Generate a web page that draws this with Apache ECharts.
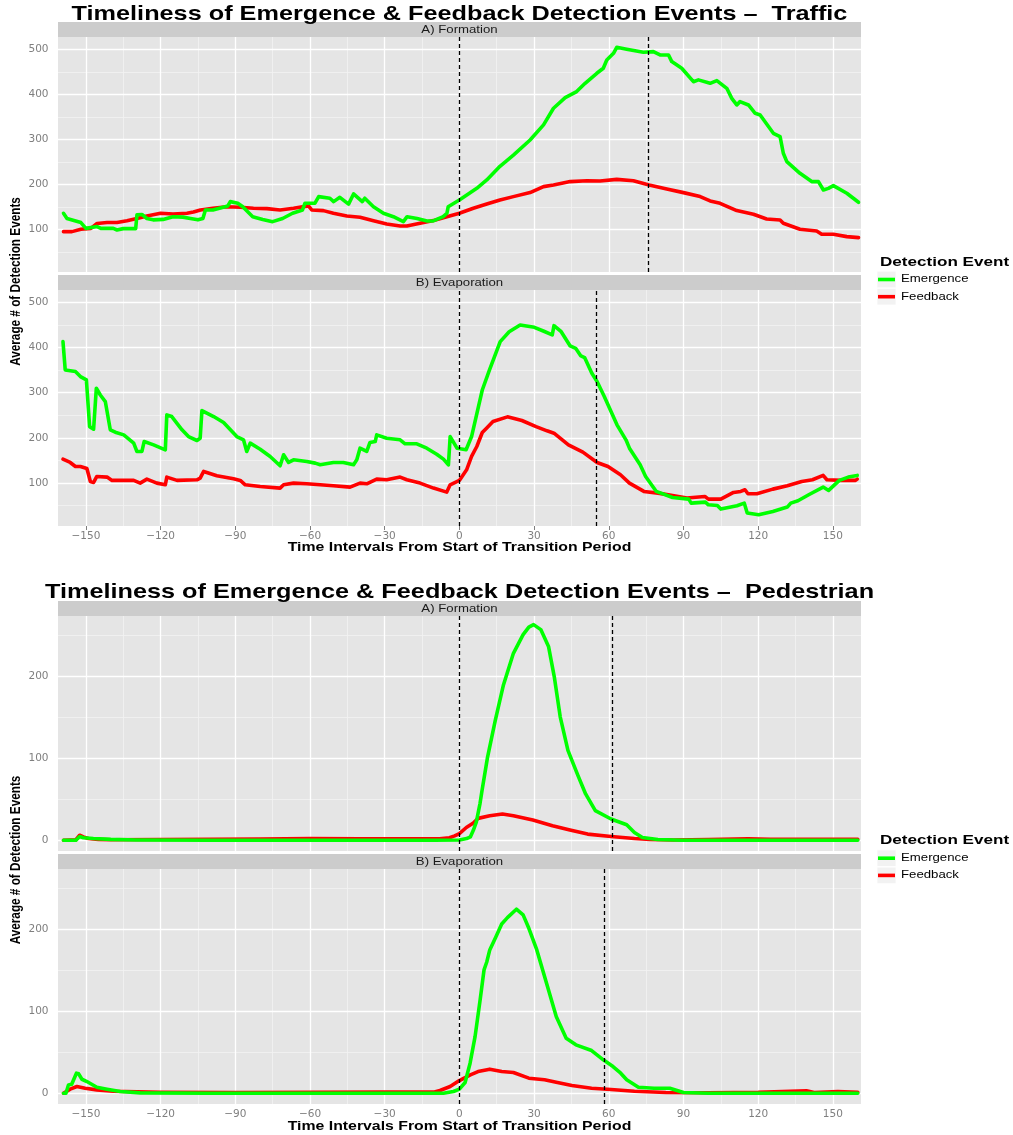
<!DOCTYPE html>
<html><head><meta charset="utf-8">
<script src="https://cdn.jsdelivr.net/npm/echarts@6/dist/echarts.min.js"></script>
<style>html,body{margin:0;padding:0;background:#fff}#c{width:1013px;height:1135px}</style>
</head><body><div id="c"></div><script>
// ---------------- data ----------------
const seriesNames = ['Emergence', 'Feedback'];
const seriesColors = ['#00FF00', '#FF0000'];
const figureTitles = [
  'Timeliness of Emergence & Feedback Detection Events \u2013  Traffic',
  'Timeliness of Emergence & Feedback Detection Events \u2013  Pedestrian'
];
const panelLabels = ['A) Formation', 'B) Evaporation'];
const xAxisTitle = 'Time Intervals From Start of Transition Period';
const yAxisTitle = 'Average # of Detection Events';
const legendTitle = 'Detection Event';

const xTicks = [-150, -120, -90, -60, -30, 0, 30, 60, 90, 120, 150];
const xMinor = [-135, -105, -75, -45, -15, 15, 45, 75, 105, 135];
const trafficYTicks = [100, 200, 300, 400, 500];
const trafficYMinor = [50, 150, 250, 350, 450];
const pedYTicks = [0, 100, 200];
const pedYMinor = [50, 150, 250];

// [time interval, average # of detection events]
const trafficFormationEmergence = [[-159,135.6],[-157.6,124],[-152,115],[-150,102],[-145.5,106],[-144,102],[-139,102],[-137.5,98.5],[-135,101.5],[-130,101.5],[-129.5,132],[-127.5,133],[-125.5,124],[-123,121],[-119,122],[-115,128],[-111,127],[-108,124],[-105,121],[-103,124],[-102,143],[-99,143],[-93,152],[-92,161.5],[-89,158],[-87,150],[-83,128],[-79,122],[-75,117],[-71,124],[-67,135.6],[-63,143],[-62,158],[-58,158],[-56.5,172.6],[-52,169],[-50.5,161.5],[-48,171],[-44.5,156],[-42.5,178.5],[-39,161.5],[-38,169],[-34.5,150],[-30.5,135.6],[-26.5,128],[-22.5,117],[-21,128],[-17,124],[-13,118.5],[-10.5,118.5],[-6.5,128],[-5,135.6],[-4.5,150],[0,165],[7,191],[11,209.6],[16.3,240],[21.7,265],[28.4,298.5],[33.8,332],[37.8,369],[42.5,392.6],[47.1,406],[50.5,424.4],[55.2,446.7],[57.8,457.8],[59.2,476.3],[61.9,491],[63.2,504.4],[67.2,500],[73.9,493.3],[77.9,494.8],[80.6,487.4],[84,487.4],[85.3,472.6],[89.3,457.8],[94,428],[96,432],[100.7,424.4],[103.4,430.4],[107.4,413.3],[109.4,391],[111.4,376.3],[112.7,383.7],[116.1,376.3],[118.8,357.8],[120.8,354],[126.1,313.3],[128.8,306],[130.1,269],[131.5,250.4],[136.8,224.4],[141.5,206],[144.2,206],[146.2,187.4],[148.2,191],[150.2,197],[155.6,180],[160.3,160]];
const trafficFormationFeedback = [[-159,94.8],[-155.6,94.8],[-152,100],[-148,102],[-145.5,113],[-141.5,115],[-137.5,115],[-133.5,119],[-129.5,124],[-125.5,129.6],[-120,135.6],[-115,134],[-109.4,135.6],[-106.8,138.5],[-104,143],[-99,146.7],[-93.4,150],[-88,149],[-82.7,146.7],[-77.3,146],[-72,143],[-66.6,146.7],[-60.6,152],[-59.3,143],[-54.6,141.5],[-50.6,135.6],[-45.2,129.6],[-39.9,126.7],[-34.5,119],[-29.2,111.8],[-23.8,107.4],[-21.1,107.4],[-15.8,113.3],[-10.4,119.3],[-5,128],[0,135.6],[5.6,146.7],[11,156],[16.3,165],[21.7,172.6],[28.4,181.5],[33.8,194.8],[37.8,198.5],[44.5,206],[51.2,208],[56.5,207.4],[63.2,211],[69.9,208],[76.2,198.5],[83.3,189.6],[90,181.5],[96.7,172.6],[100.7,163],[104.7,157.8],[111.4,141.5],[118.1,133.3],[123.4,123],[128.8,120.7],[130.1,113.3],[136.8,100],[143.5,96.3],[145.5,89],[150.2,89],[155.6,83.7],[160.3,81.5]];
const trafficEvaporationEmergence = [[-159.2,413],[-158.3,350.5],[-154.2,346.8],[-152.2,335.7],[-149.8,328.4],[-148.5,225],[-146.9,219.3],[-145.8,310],[-144.2,295],[-142.2,280.5],[-140.2,218],[-138.2,212.7],[-134.8,206.8],[-130.8,188.4],[-129.5,170],[-127.5,170],[-126.6,192],[-122.8,184.7],[-118.1,173.7],[-117.5,251],[-115.5,247.3],[-111.4,218],[-108.8,203],[-105.4,194.3],[-104.1,199.4],[-103.4,260.6],[-98.7,247.3],[-94.7,234],[-89.4,203],[-86.7,195.8],[-85.4,170],[-84,188.4],[-80,175],[-76,159],[-72,138.3],[-70.6,162.6],[-68.6,145.7],[-66.6,151.6],[-61.3,148],[-57.9,144.2],[-55.9,140.5],[-50.6,145.7],[-46.6,145.7],[-42.5,140.5],[-41.2,151.6],[-39.9,177.3],[-37.2,170],[-35.9,190],[-33.8,192],[-33.2,206.8],[-29.2,199.4],[-23.8,195.8],[-21.8,187],[-17.1,187],[-13.1,177.3],[-9.1,164],[-6.4,153],[-4.4,140.5],[-3.7,203],[-0.9,177],[2.7,173.7],[4.9,203],[9.2,306],[12.1,350.5],[16.4,413],[20,435],[24.4,450],[30.1,444.7],[33.7,436.6],[37.3,427.8],[38,448.4],[40.9,435],[44.5,403.5],[46.7,398.3],[48.8,381.4],[50.3,377.7],[53.2,343],[55.3,324.7],[58.2,291.5],[63.3,229],[66.9,195.8],[68.3,177.3],[72.6,140.5],[74.8,114.7],[79.1,81.6],[85.6,68.3],[92.1,64.6],[93.1,55.8],[98.8,58],[100,52],[103.6,50.6],[105,42.5],[111.5,50],[114.4,55.8],[115.6,33.7],[120.2,30],[125.9,37.4],[131.7,47],[133.1,55.8],[136,61],[140.3,74.2],[146.1,91.2],[148.3,83.8],[152.6,106],[156.2,113.3],[159.8,117]];
const trafficEvaporationFeedback = [[-159.2,153],[-156.3,145.7],[-154.2,136.8],[-152.2,136.8],[-151.6,138.3],[-149.6,132.4],[-148.2,103.7],[-146.9,101.5],[-145.6,114.7],[-141.5,113.3],[-139.5,106],[-134.8,106],[-130.8,106],[-128.2,100],[-125.5,108.8],[-121.5,100],[-118.1,96.3],[-117.5,113.3],[-113.4,106],[-105.4,107.4],[-104.1,111],[-102.7,125.8],[-97.4,116.2],[-90.7,109.6],[-88,106],[-86,96.3],[-80,92.6],[-72,89],[-70.6,96.3],[-66.6,100],[-61.3,98.5],[-55.9,96.3],[-50.6,94],[-43.9,91.2],[-39.9,100],[-37.2,98.5],[-33.2,108.8],[-29.2,107.4],[-23.8,113.3],[-21.1,107.4],[-15.8,100],[-10.4,89],[-5.1,80],[-3.7,96.3],[0,106],[2.9,129.5],[4.9,159],[7,181],[9.2,212],[11,222],[13.5,236.3],[19.3,246.6],[25.1,238.5],[30.8,225],[35.2,215.7],[38,210.5],[43.8,184.7],[49.6,168.5],[55.3,145.7],[59.7,136.8],[64.7,118.4],[68.3,100],[74.1,81.6],[79.8,77.9],[85.6,72.7],[91.4,66.9],[98.6,70.5],[100,64.6],[105,64.6],[110.1,79.4],[113,81.6],[114.7,85.3],[115.9,76.4],[119.5,76.4],[125.9,86.7],[131.7,94],[137.5,103.7],[141.8,107.4],[146.1,117],[147.6,107.4],[153.3,106],[159.1,106],[159.8,108.8]];
const pedFormationEmergence = [[-159,0],[-154,0],[-152.5,4.5],[-151,3],[-147,2],[-140,1],[-130,0.3],[-100,0],[-50,0],[-10,0],[0,0.2],[2.9,2],[4.4,4],[5.6,12],[6.8,22],[8.3,45],[9.1,60.5],[11.3,101],[14.4,146],[17.7,189.4],[21.7,228],[25.6,250.7],[27.9,260],[29.8,263],[32.7,256.9],[35.8,236.4],[38.1,199.6],[40.5,150.5],[43.6,109.6],[47.6,79],[50.7,56.4],[54.6,36],[60.9,25.8],[67.2,18.8],[70.3,9.4],[73.5,3.3],[79.7,0.8],[89.2,0],[120,0],[160,0]];
const pedFormationFeedback = [[-159,0],[-154,0.5],[-152.5,6],[-151,4],[-149,2],[-145,1],[-140,0.5],[-120,0.8],[-100,1.2],[-80,1.5],[-60,2],[-40,1.6],[-20,1.6],[-8,1.8],[-4,3],[-1.9,5.3],[0,8],[2.8,15.5],[5.6,21],[7.5,26.6],[12.2,29.9],[17.3,31.9],[21.7,29.9],[29.5,24.5],[37.4,17.6],[44.4,12.3],[51.5,7.4],[60.9,4.5],[70.3,2],[76.6,0.8],[86,0.3],[100,0.8],[115.9,1.8],[125,1],[140,1.2],[160,1]];
const pedEvaporationEmergence = [[-159,0],[-158,0],[-157,10],[-155.7,11],[-153.8,24.4],[-152.9,23.6],[-151.6,17],[-149.6,14.2],[-145.6,7.3],[-141.5,4.9],[-136.2,2],[-128.2,0.4],[-100,0],[-50,0],[-6.4,0],[-2.4,2],[0,4.9],[2.3,13],[4.3,36.6],[6.3,69],[8.3,113],[9.9,150.4],[11,160],[12.2,174.8],[14.6,190.2],[17,206.5],[19.3,214.2],[22.9,224.4],[25.6,217.5],[27.9,201.2],[31.1,174.8],[35.8,126],[38.9,93.5],[42.9,67],[46.8,59],[53.1,52],[57.8,40.7],[61.7,32.5],[64.8,24.4],[67.2,16.3],[71.9,7.3],[78.2,6.1],[84.5,6.1],[90,0.8],[100,0],[160,0]];
const pedEvaporationFeedback = [[-159,0],[-156.3,4.9],[-153.6,8.1],[-150.3,6.1],[-145.6,4],[-139,2.4],[-120,1.2],[-90,0.8],[-60,1.2],[-30,1.4],[-10,1.5],[-7.8,3.3],[-3.7,8.1],[0,15.4],[4.4,22.4],[7.5,26.4],[12.2,29.3],[17,26.4],[21.7,25.2],[27.9,18.3],[34.2,16.3],[38.9,13.4],[45.2,9.3],[53.1,6.1],[60.9,4.5],[70.3,2.4],[82.9,0.8],[100,0.6],[120,1],[139.4,2.8],[142.5,0.8],[152,2],[160,1.2]];

// transition period boundaries (dashed lines)
const trafficFormationLines = [0, 76];
const trafficEvaporationLines = [0, 55];
const pedFormationLines = [0, 61.5];
const pedEvaporationLines = [0, 58];

// ---------------- layout ----------------
const SX = 1.257; // horizontal stretch of the reference image text
const PL = 58, PW = 803;
const panels = [
  {top: 37, height: 235, strip: 22, ymin: 5.1, ymax: 527.3, yT: trafficYTicks, yM: trafficYMinor, em: trafficFormationEmergence, fb: trafficFormationFeedback, dash: trafficFormationLines, label: panelLabels[0], bottom: false},
  {top: 290, height: 236, strip: 275, ymin: 5.1, ymax: 527.3, yT: trafficYTicks, yM: trafficYMinor, em: trafficEvaporationEmergence, fb: trafficEvaporationFeedback, dash: trafficEvaporationLines, label: panelLabels[1], bottom: true},
  {top: 616, height: 235, strip: 601, ymin: -13.2, ymax: 273.5, yT: pedYTicks, yM: pedYMinor, em: pedFormationEmergence, fb: pedFormationFeedback, dash: pedFormationLines, label: panelLabels[0], bottom: false},
  {top: 869, height: 235, strip: 854, ymin: -13.2, ymax: 273.5, yT: pedYTicks, yM: pedYMinor, em: pedEvaporationEmergence, fb: pedEvaporationFeedback, dash: pedEvaporationLines, label: panelLabels[1], bottom: true}
];
const figures = [
  {title: figureTitles[0], titleY: 14, xTitleY: 548, yTitleY: 281.5, legendY: 262},
  {title: figureTitles[1], titleY: 592, xTitleY: 1127, yTitleY: 860, legendY: 840.7}
];

const minusFmt = v => (v < 0 ? '\u2212' : '') + Math.abs(v);
const tickColor = '#7F7F7F';

const grids = [], xAxes = [], yAxes = [], series = [], graphics = [];
panels.forEach((p, i) => {
  grids.push({left: PL, top: p.top, width: PW, height: p.height, show: true, backgroundColor: '#E5E5E5', borderWidth: 0, containLabel: false, outerBoundsMode: 'none'});
  xAxes.push({
    gridIndex: i, type: 'value', min: -161.2, max: 161.3,
    axisLine: {show: false}, splitLine: {show: false},
    axisTick: {show: p.bottom, customValues: xTicks, length: 4, lineStyle: {color: tickColor, width: 1}},
    axisLabel: {show: p.bottom, customValues: xTicks, margin: 5, color: tickColor, fontFamily: 'DejaVu Sans', fontSize: 10.5, formatter: minusFmt}
  });
  yAxes.push({
    gridIndex: i, type: 'value', min: p.ymin, max: p.ymax,
    axisLine: {show: false}, splitLine: {show: false},
    axisTick: {show: true, customValues: p.yT, length: 5, lineStyle: {color: tickColor, width: 1}},
    axisLabel: {show: true, customValues: p.yT, margin: 9.5, color: tickColor, fontFamily: 'DejaVu Sans', fontSize: 10.5, formatter: minusFmt}
  });
  const minorStyle = {color: '#F2F2F2', width: 0.8, type: 'solid'};
  const majorStyle = {color: '#FFFFFF', width: 1.3, type: 'solid'};
  series.push({
    type: 'line', xAxisIndex: i, yAxisIndex: i, data: [], silent: true, z: 1,
    markLine: {
      silent: true, z: 1, symbol: ['none', 'none'], animation: false, label: {show: false},
      emphasis: {disabled: true},
      data: [].concat(
        xMinor.map(v => ({xAxis: v, lineStyle: minorStyle})),
        p.yM.map(v => ({yAxis: v, lineStyle: minorStyle})),
        xTicks.map(v => ({xAxis: v, lineStyle: majorStyle})),
        p.yT.map(v => ({yAxis: v, lineStyle: majorStyle}))
      )
    }
  });
  series.push({type: 'line', name: seriesNames[1], xAxisIndex: i, yAxisIndex: i, data: p.fb, symbol: 'none', showSymbol: false, z: 3, lineStyle: {color: seriesColors[1], width: 3.6, join: 'round', cap: 'round'}, itemStyle: {color: seriesColors[1]}});
  series.push({type: 'line', name: seriesNames[0], xAxisIndex: i, yAxisIndex: i, data: p.em, symbol: 'none', showSymbol: false, z: 4, lineStyle: {color: seriesColors[0], width: 3.6, join: 'round', cap: 'round'}, itemStyle: {color: seriesColors[0]}});
  series.push({
    type: 'line', xAxisIndex: i, yAxisIndex: i, data: [], silent: true, z: 6,
    markLine: {
      silent: true, z: 6, symbol: ['none', 'none'], animation: false, label: {show: false},
      emphasis: {disabled: true},
      lineStyle: {color: '#000', width: 1.3, type: [4, 3]},
      data: p.dash.map(v => ({xAxis: v}))
    }
  });
  // facet strip
  graphics.push({type: 'rect', shape: {x: PL, y: p.strip, width: PW, height: 15}, style: {fill: '#CCCCCC'}, silent: true});
  graphics.push({type: 'text', x: PL + PW / 2, y: p.strip + 7.7, scaleX: SX, silent: true,
    style: {text: p.label, fontFamily: 'Liberation Sans', fontSize: 10.5, fill: '#1A1A1A', align: 'center', verticalAlign: 'middle', textAlign: 'center', textVerticalAlign: 'middle'}});
});

figures.forEach(f => {
  graphics.push({type: 'text', x: PL + PW / 2, y: f.titleY, scaleX: SX, silent: true,
    style: {text: f.title, fontFamily: 'Liberation Sans', fontWeight: 'bold', fontSize: 20.1, fill: '#000', align: 'center', verticalAlign: 'middle', textAlign: 'center', textVerticalAlign: 'middle'}});
  graphics.push({type: 'text', x: PL + PW / 2, y: f.xTitleY, scaleX: SX, silent: true,
    style: {text: xAxisTitle, fontFamily: 'Liberation Sans', fontWeight: 'bold', fontSize: 12.6, fill: '#000', align: 'center', verticalAlign: 'middle', textAlign: 'center', textVerticalAlign: 'middle'}});
  graphics.push({type: 'text', x: 15.5, y: f.yTitleY, rotation: Math.PI / 2, scaleY: SX, silent: true,
    style: {text: yAxisTitle, fontFamily: 'Liberation Sans', fontWeight: 'bold', fontSize: 11.75, fill: '#000', align: 'center', verticalAlign: 'middle', textAlign: 'center', textVerticalAlign: 'middle'}});
  // legend
  graphics.push({type: 'text', x: 880, y: f.legendY, scaleX: SX, silent: true,
    style: {text: legendTitle, fontFamily: 'Liberation Sans', fontWeight: 'bold', fontSize: 13.6, fill: '#000', align: 'left', verticalAlign: 'middle', textAlign: 'left', textVerticalAlign: 'middle'}});
  seriesNames.forEach((name, k) => {
    const cy = f.legendY + 17.5 + k * 17.2;
    graphics.push({type: 'rect', shape: {x: 877, y: cy - 8.3, width: 19, height: 16.6}, style: {fill: '#F2F2F2', stroke: '#FFFFFF', lineWidth: 0.8}, silent: true});
    graphics.push({type: 'line', shape: {x1: 878, y1: cy, x2: 895, y2: cy}, style: {stroke: seriesColors[k], lineWidth: 3.6}, silent: true});
    graphics.push({type: 'text', x: 901, y: cy, scaleX: SX, silent: true,
      style: {text: name, fontFamily: 'Liberation Sans', fontSize: 10.5, fill: '#000', align: 'left', verticalAlign: 'middle', textAlign: 'left', textVerticalAlign: 'middle'}});
  });
});

const chart = echarts.init(document.getElementById('c'), null, {renderer: 'canvas'});
chart.setOption({
  animation: false,
  backgroundColor: '#FFFFFF',
  grid: grids,
  xAxis: xAxes,
  yAxis: yAxes,
  series: series,
  graphic: {elements: graphics}
});
</script></body></html>
